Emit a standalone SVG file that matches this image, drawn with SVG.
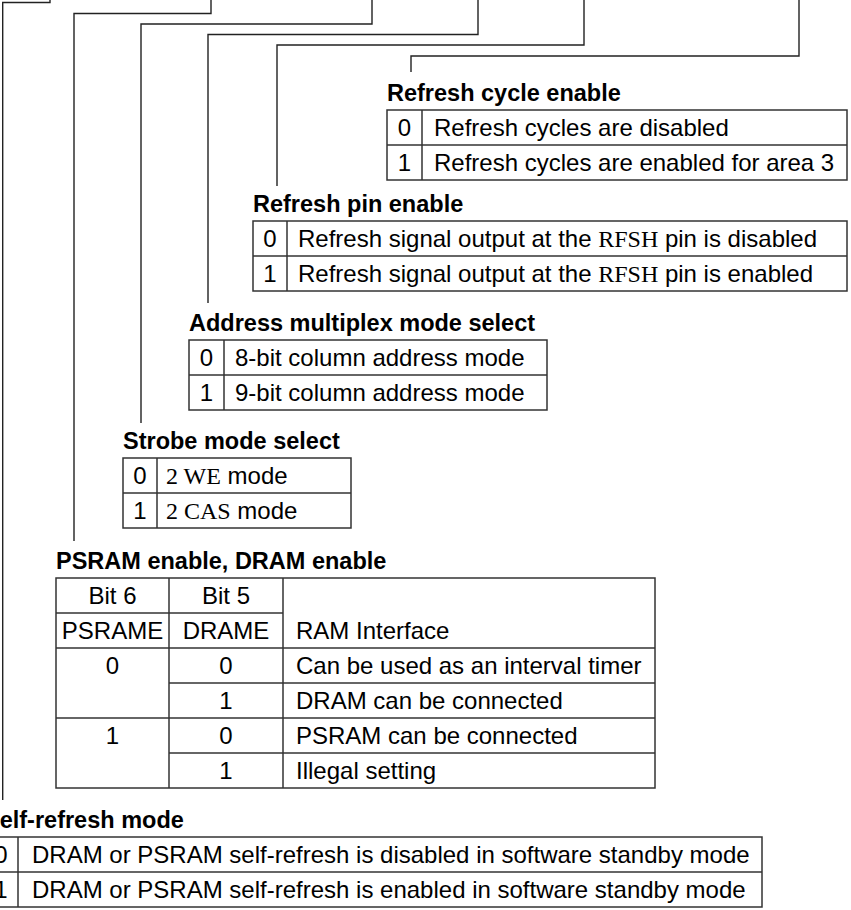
<svg xmlns="http://www.w3.org/2000/svg" width="851" height="910" viewBox="0 0 851 910">
<style>
.lbl{font-family:"Liberation Sans",Arial,sans-serif;font-weight:bold;font-size:23.5px;fill:#000}
.t{font-family:"Liberation Sans",Arial,sans-serif;font-size:24px;fill:#000}
.c{text-anchor:middle}
.s{font-family:"Liberation Serif","Times New Roman",serif}
.tb{fill:none;stroke:#333;stroke-width:1.5}
.ln{stroke:#333;stroke-width:1.5}
.cn{fill:none;stroke:#222;stroke-width:1.4}
</style>
<rect width="851" height="910" fill="#fff"/>
<g id="connectors" class="cn">
<path d="M50,0 V2.5 H2.7 V800"/>
<path d="M211,0 V13.5 H74 V541"/>
<path d="M372,0 V24 H141 V423"/>
<path d="M478,0 V34.5 H208 V303"/>
<path d="M584,0 V45 H277 V186"/>
<path d="M799,0 V56 H411 V72"/>
</g>
<g id="refresh-cycle-enable">
<text class="lbl" x="387" y="101">Refresh cycle enable</text>
<rect class="tb" x="387" y="110" width="460" height="70"/>
<line class="ln" x1="387" y1="145" x2="847" y2="145"/>
<line class="ln" x1="422" y1="110" x2="422" y2="180"/>
<text class="t c" x="404.5" y="136">0</text>
<text class="t" x="434" y="136">Refresh cycles are disabled</text>
<text class="t c" x="404.5" y="171">1</text>
<text class="t" x="434" y="171">Refresh cycles are enabled for area 3</text>
</g>
<g id="refresh-pin-enable">
<text class="lbl" x="253" y="212">Refresh pin enable</text>
<rect class="tb" x="253" y="221" width="594" height="70"/>
<line class="ln" x1="253" y1="256" x2="847" y2="256"/>
<line class="ln" x1="287" y1="221" x2="287" y2="291"/>
<text class="t c" x="270" y="247">0</text>
<text class="t" x="298" y="247">Refresh signal output at the <tspan class="s">RFSH</tspan> pin is disabled</text>
<text class="t c" x="270" y="282">1</text>
<text class="t" x="298" y="282">Refresh signal output at the <tspan class="s">RFSH</tspan> pin is enabled</text>
</g>
<g id="address-multiplex-mode-select">
<text class="lbl" x="189" y="331">Address multiplex mode select</text>
<rect class="tb" x="189" y="340" width="358" height="70"/>
<line class="ln" x1="189" y1="375" x2="547" y2="375"/>
<line class="ln" x1="224" y1="340" x2="224" y2="410"/>
<text class="t c" x="206.5" y="366">0</text>
<text class="t" x="235" y="366">8-bit column address mode</text>
<text class="t c" x="206.5" y="401">1</text>
<text class="t" x="235" y="401">9-bit column address mode</text>
</g>
<g id="strobe-mode-select">
<text class="lbl" x="123" y="449">Strobe mode select</text>
<rect class="tb" x="123" y="458" width="228" height="70"/>
<line class="ln" x1="123" y1="493" x2="351" y2="493"/>
<line class="ln" x1="157" y1="458" x2="157" y2="528"/>
<text class="t c" x="140" y="484">0</text>
<text class="t" x="166" y="484"><tspan class="s">2 WE</tspan> mode</text>
<text class="t c" x="140" y="519">1</text>
<text class="t" x="166" y="519"><tspan class="s">2 CAS</tspan> mode</text>
</g>
<g id="psram-dram-enable">
<text class="lbl" x="56" y="569">PSRAM enable, DRAM enable</text>
<rect class="tb" x="56" y="578" width="599" height="210"/>
<line class="ln" x1="56" y1="613" x2="283" y2="613"/>
<line class="ln" x1="56" y1="648" x2="655" y2="648"/>
<line class="ln" x1="169" y1="683" x2="655" y2="683"/>
<line class="ln" x1="56" y1="718" x2="655" y2="718"/>
<line class="ln" x1="169" y1="753" x2="655" y2="753"/>
<line class="ln" x1="169" y1="578" x2="169" y2="788"/>
<line class="ln" x1="283" y1="578" x2="283" y2="788"/>
<text class="t c" x="112.5" y="604">Bit 6</text>
<text class="t c" x="226" y="604">Bit 5</text>
<text class="t c" x="112.5" y="639">PSRAME</text>
<text class="t c" x="226" y="639">DRAME</text>
<text class="t" x="296" y="639">RAM Interface</text>
<text class="t c" x="112.5" y="674">0</text>
<text class="t c" x="226" y="674">0</text>
<text class="t" x="296" y="674">Can be used as an interval timer</text>
<text class="t c" x="226" y="709">1</text>
<text class="t" x="296" y="709">DRAM can be connected</text>
<text class="t c" x="112.5" y="744">1</text>
<text class="t c" x="226" y="744">0</text>
<text class="t" x="296" y="744">PSRAM can be connected</text>
<text class="t c" x="226" y="779">1</text>
<text class="t" x="296" y="779">Illegal setting</text>
</g>
<g id="self-refresh-mode">
<text class="lbl" x="-16" y="828">Self-refresh mode</text>
<rect class="tb" x="-16" y="837" width="778" height="70"/>
<line class="ln" x1="-16" y1="872" x2="762" y2="872"/>
<line class="ln" x1="18" y1="837" x2="18" y2="907"/>
<text class="t c" x="1" y="863">0</text>
<text class="t" x="32" y="863">DRAM or PSRAM self-refresh is disabled in software standby mode</text>
<text class="t c" x="1" y="898">1</text>
<text class="t" x="32" y="898">DRAM or PSRAM self-refresh is enabled in software standby mode</text>
</g>
</svg>
